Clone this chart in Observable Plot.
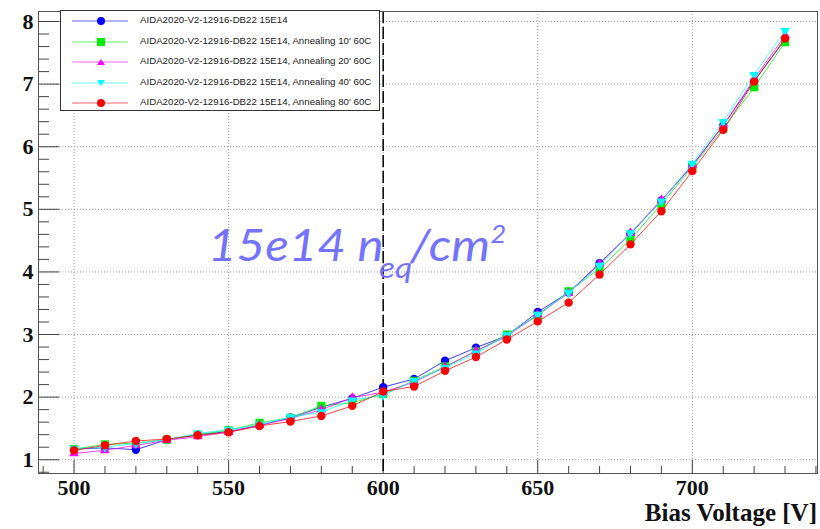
<!DOCTYPE html>
<html>
<head>
<meta charset="utf-8">
<script src="https://cdn.jsdelivr.net/npm/d3@7"></script>
<script src="https://cdn.jsdelivr.net/npm/@observablehq/plot@0.6"></script>
<style>
  html, body { margin: 0; padding: 0; background: #fff; }
  #wrap { position: relative; width: 820px; height: 529px; overflow: hidden; }
  #legend { position: absolute; left: 60px; top: 10px; width: 320px; height: 101px; border: 1px solid #333; background: #fff; box-sizing: border-box; }
  .lg-row { position: absolute; left: 0; height: 20px; width: 100%; }
  .lg-row svg { position: absolute; left: 11px; top: 0; }
  .lg-row span { position: absolute; left: 79px; top: 3px; font: 9.7px "Liberation Sans", Arial, sans-serif; color: #222; white-space: nowrap; }
  #note { position: absolute; left: 208px; top: 222px; font: italic 44px Lato, "Open Sans", sans-serif; color: #7373ff; white-space: nowrap; line-height: 1; transform: scaleX(1.12); transform-origin: 0 0; }
  #note sub { font-size: 0.68em; vertical-align: -0.58em; margin-left: -0.14em; margin-right: -0.06em; }
  #note sup { font-size: 0.55em; vertical-align: 0.75em; margin-left: 0.02em; }
  #xtitle { position: absolute; right: 3px; top: 500px; font: bold 25px "Liberation Serif", "Times New Roman", serif; color: #111; white-space: nowrap; line-height: 1; }
</style>
</head>
<body>
<div id="wrap"></div>
<script>
// ---- data ----
const voltages = [500,510,520,530,540,550,560,570,580,590,600,610,620,630,640,650,660,670,680,690,700,710,720,730];
const seriesBlue    = [1.17,1.19,1.16,1.32,1.40,1.45,1.55,1.67,1.84,1.98,2.16,2.29,2.58,2.79,2.98,3.36,3.67,4.14,4.61,5.14,5.70,6.34,7.05,7.71];
const seriesGreen   = [1.17,1.245,1.265,1.32,1.40,1.47,1.59,1.67,1.86,1.91,2.05,2.26,2.49,2.73,3.00,3.30,3.69,4.05,4.52,5.08,5.68,6.29,6.95,7.67];
const seriesMagenta = [1.10,1.15,1.23,1.31,1.37,1.44,1.55,1.66,1.80,1.99,2.08,2.24,2.48,2.74,2.97,3.32,3.66,4.13,4.62,5.15,5.70,6.34,7.08,7.78];
const seriesCyan    = [1.18,1.20,1.26,1.32,1.42,1.48,1.56,1.68,1.76,1.95,2.03,2.26,2.47,2.70,2.99,3.32,3.67,4.10,4.62,5.13,5.73,6.40,7.15,7.85];
const seriesRed     = [1.15,1.23,1.30,1.33,1.39,1.44,1.54,1.61,1.70,1.86,2.09,2.17,2.42,2.64,2.92,3.21,3.51,3.96,4.44,4.97,5.61,6.27,7.04,7.73];
const seriesNames = [
  "AIDA2020-V2-12916-DB22 15E14",
  "AIDA2020-V2-12916-DB22 15E14, Annealing 10' 60C",
  "AIDA2020-V2-12916-DB22 15E14, Annealing 20' 60C",
  "AIDA2020-V2-12916-DB22 15E14, Annealing 40' 60C",
  "AIDA2020-V2-12916-DB22 15E14, Annealing 80' 60C"
];
const seriesValues = [seriesBlue, seriesGreen, seriesMagenta, seriesCyan, seriesRed];
const seriesColors = ["#0000ff", "#00ee00", "#ff00ff", "#00ffff", "#ff0000"];
const seriesSymbols = ["circle", "square", "triangle", "triangle", "circle"];
const seriesRotate = [0, 0, 0, 180, 0];
const seriesSize = [4.2, 4.6, 3.6, 3.6, 4.2];
const xMajorTicks = [500, 550, 600, 650, 700];
const xMinorTicks = d3.range(490, 741, 10).filter(v => v % 50 !== 0);
const yMajorTicks = [1, 2, 3, 4, 5, 6, 7, 8];
const yMinorTicks = d3.range(8, 82, 2).map(v => v / 10).filter(v => Math.abs(v - Math.round(v)) > 1e-6);
const markerVoltage = [600];

// ---- layout ----
const W = 820, H = 529;
const mL = 38, mR = 3, mT = 11, mB = 56;
const plotW = W - mL - mR, plotH = H - mT - mB;

const rows = [];
seriesValues.forEach((vals, i) => vals.forEach((v, j) => rows.push({series: i, x: voltages[j], y: v})));

const marks = [
  Plot.gridX(xMajorTicks, {stroke: "#999", strokeOpacity: 1, strokeDasharray: "1,2"}),
  Plot.gridY(yMajorTicks, {stroke: "#999", strokeOpacity: 1, strokeDasharray: "1,2"}),
  Plot.tickX(xMinorTicks, {x: d => d, stroke: "#444", insetTop: plotH - 7}),
  Plot.tickX(xMajorTicks, {x: d => d, stroke: "#444", insetTop: plotH - 13}),
  Plot.tickY(yMinorTicks, {y: d => d, stroke: "#444", insetRight: plotW - 11}),
  Plot.tickY(yMajorTicks, {y: d => d, stroke: "#444", insetRight: plotW - 21}),
  Plot.ruleX(markerVoltage, {x: d => d, stroke: "#000", strokeWidth: 1.5, strokeDasharray: "12,4"}),
  Plot.axisX({ticks: xMajorTicks, tickSize: 0, tickPadding: 6, tickFormat: d => String(d), label: null}),
  Plot.axisY({ticks: yMajorTicks, tickSize: 0, tickPadding: 5, tickFormat: d => String(d), label: null}),
  Plot.frame({stroke: "#555"})
];
seriesValues.forEach((vals, i) => {
  const data = rows.filter(r => r.series === i);
  marks.push(Plot.line(data, {x: "x", y: "y", stroke: seriesColors[i], strokeWidth: 1, strokeOpacity: 0.75}));
  marks.push(Plot.dot(data, {x: "x", y: "y", fill: seriesColors[i], stroke: "none", symbol: seriesSymbols[i], r: seriesSize[i], rotate: seriesRotate[i]}));
});

const chart = Plot.plot({
  width: W, height: H,
  marginLeft: mL, marginRight: mR, marginTop: mT, marginBottom: mB,
  x: {domain: [488.5, 740.5]},
  y: {domain: [0.78, 8.16]},
  style: {fontFamily: "'Liberation Serif', 'Times New Roman', serif", fontSize: "22px", fontWeight: "bold", color: "#111", background: "#fff"},
  marks
});

const wrap = document.getElementById("wrap");
wrap.appendChild(chart);

// legend
const legend = document.createElement("div");
legend.id = "legend";
seriesNames.forEach((name, i) => {
  const row = document.createElement("div");
  row.className = "lg-row";
  row.style.top = (0 + i * 20.5) + "px";
  const sym = seriesSymbols[i];
  const c = seriesColors[i];
  let shape;
  if (sym === "circle") shape = `<circle cx="29" cy="10" r="4" fill="${c}"/>`;
  else if (sym === "square") shape = `<rect x="25" y="6" width="8" height="8" fill="${c}"/>`;
  else if (seriesRotate[i] === 180) shape = `<path d="M25,7 L33,7 L29,13 Z" fill="${c}"/>`;
  else shape = `<path d="M25,13 L33,13 L29,7 Z" fill="${c}"/>`;
  row.innerHTML = `<svg width="58" height="20"><line x1="0" x2="56" y1="10" y2="10" stroke="${c}" stroke-opacity="0.6" stroke-width="1.2"/>${shape}</svg><span>${name}</span>`;
  legend.appendChild(row);
});
wrap.appendChild(legend);

// annotation
const note = document.createElement("div");
note.id = "note";
note.innerHTML = "15e14 n<sub>eq</sub>/cm<sup>2</sup>";
wrap.appendChild(note);

// x axis title
const xt = document.createElement("div");
xt.id = "xtitle";
xt.textContent = "Bias Voltage [V]";
wrap.appendChild(xt);
</script>
</body>
</html>
